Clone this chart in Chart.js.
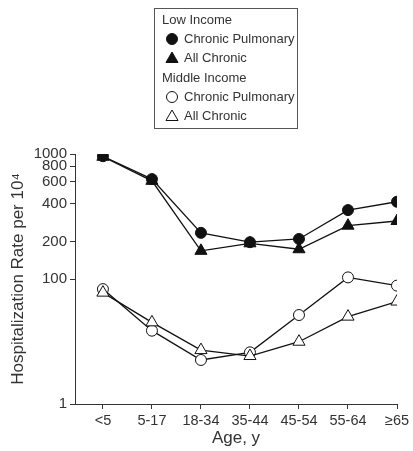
<!DOCTYPE html>
<html>
<head>
<meta charset="utf-8">
<script src="https://cdn.jsdelivr.net/npm/chart.js@4/dist/chart.umd.min.js"></script>
<style>
  html, body { margin: 0; padding: 0; background: #fff; }
</style>
</head>
<body>
<canvas id="hosp_chart" width="413" height="451"></canvas>
<script>
// age groups on the x axis
const categories = ['<5', '5-17', '18-34', '35-44', '45-54', '55-64', '\u226565']

// hospitalization rate per 10^4
const lowPulmonary = [960, 630, 234, 197, 209, 356, 415]
const lowAllChronic = [950, 610, 168, 193, 173, 267, 291]
const midPulmonary = [83, 38.6, 22.5, 25.9, 51.5, 103, 88.5]
const midAllChronic = [77.8, 45, 27, 24.2, 31.5, 50, 66]

// y ticks; the reference prints "1" at the bottom tick (one decade below 100)
const tickValues = [10, 100, 200, 400, 600, 800, 1000]
const tickLabels = ['1', '100', '200', '400', '600', '800', '1000']

const FONT = '"Liberation Sans", Arial, Helvetica, sans-serif'
const TEXT = '#333'
const INK = '#111'

function toPoints(values) {
    return values.map(function (v, i) { return {x: i, y: v} })
}

function drawMarker(ctx, style, filled, x, y, r) {
    ctx.beginPath()
    if (style === 'circle') {
        ctx.arc(x, y, r, 0, Math.PI * 2)
    } else {
        let rad = 0
        ctx.moveTo(x + Math.sin(rad) * r, y - Math.cos(rad) * r)
        rad += Math.PI * 2 / 3
        ctx.lineTo(x + Math.sin(rad) * r, y - Math.cos(rad) * r)
        rad += Math.PI * 2 / 3
        ctx.lineTo(x + Math.sin(rad) * r, y - Math.cos(rad) * r)
        ctx.closePath()
    }
    ctx.fillStyle = filled ? INK : '#fff'
    ctx.fill()
    ctx.lineWidth = 1
    ctx.strokeStyle = INK
    ctx.stroke()
}

// grouped legend box at the top
const legendBox = {
    id: 'legendBox',
    afterDraw: function (chart) {
        const ctx = chart.ctx
        ctx.save()
        ctx.strokeStyle = '#555'
        ctx.lineWidth = 1
        ctx.strokeRect(154.5, 8.5, 143, 120)
        ctx.font = '13px ' + FONT
        ctx.fillStyle = TEXT
        ctx.textBaseline = 'middle'
        ctx.textAlign = 'left'
        const rows = [
            {head: 'Low Income', y: 20},
            {text: 'Chronic Pulmonary', style: 'circle', filled: true, y: 39},
            {text: 'All Chronic', style: 'triangle', filled: true, y: 58},
            {head: 'Middle Income', y: 78},
            {text: 'Chronic Pulmonary', style: 'circle', filled: false, y: 97},
            {text: 'All Chronic', style: 'triangle', filled: false, y: 116}
        ]
        for (const row of rows) {
            if (row.head) {
                ctx.fillStyle = TEXT
                ctx.fillText(row.head, 162, row.y)
            } else {
                const r = row.style === 'circle' ? 5.5 : 7
                drawMarker(ctx, row.style, row.filled, 172, row.y + (row.style === 'circle' ? 0 : 1), r)
                ctx.fillStyle = TEXT
                ctx.fillText(row.text, 184, row.y)
            }
        }
        ctx.restore()
    }
}

function makeSet(label, values, style, filled, order) {
    return {
        label: label,
        data: toPoints(values),
        borderColor: INK,
        borderWidth: 1.3,
        pointStyle: style,
        pointRadius: style === 'circle' ? 5.5 : 7,
        pointBorderWidth: 1,
        pointBorderColor: INK,
        pointBackgroundColor: filled ? INK : '#fff',
        tension: 0,
        order: order
    }
}

const chart = new Chart(document.getElementById('hosp_chart').getContext('2d'), {
    type: 'line',
    data: {
        datasets: [
            makeSet('Low Income Chronic Pulmonary', lowPulmonary, 'circle', true, 1),
            makeSet('Low Income All Chronic', lowAllChronic, 'triangle', true, 0),
            makeSet('Middle Income Chronic Pulmonary', midPulmonary, 'circle', false, 1),
            makeSet('Middle Income All Chronic', midAllChronic, 'triangle', false, 0)
        ]
    },
    options: {
        responsive: false,
        animation: false,
        devicePixelRatio: 1,
        layout: {padding: {top: 154, right: 16, left: 0, bottom: 0}},
        plugins: {
            legend: {display: false},
            tooltip: {enabled: false}
        },
        scales: {
            x: {
                type: 'linear',
                min: -0.57,
                max: 6,
                afterBuildTicks: function (scale) {
                    scale.ticks = categories.map(function (c, i) { return {value: i} })
                },
                afterFit: function (scale) { scale.height = 47 },
                ticks: {
                    autoSkip: false,
                    maxRotation: 0,
                    padding: 3,
                    color: TEXT,
                    font: {family: FONT, size: 14.5},
                    callback: function (value) { return categories[value] }
                },
                grid: {drawOnChartArea: false, tickLength: 5, color: '#333'},
                border: {color: '#333', width: 1},
                title: {
                    display: true,
                    text: 'Age, y',
                    color: TEXT,
                    font: {family: FONT, size: 17},
                    padding: {top: 0, bottom: 2}
                }
            },
            y: {
                type: 'logarithmic',
                min: 10,
                max: 1000,
                afterBuildTicks: function (scale) {
                    scale.ticks = tickValues.map(function (v) { return {value: v} })
                },
                afterFit: function (scale) { scale.width = 75 },
                ticks: {
                    autoSkip: false,
                    padding: 3,
                    color: TEXT,
                    font: {family: FONT, size: 15},
                    callback: function (value) { return tickLabels[tickValues.indexOf(value)] }
                },
                grid: {drawOnChartArea: false, tickLength: 5, color: '#333'},
                border: {color: '#333', width: 1},
                title: {
                    display: true,
                    text: 'Hospitalization Rate per 10\u2074',
                    color: TEXT,
                    font: {family: FONT, size: 17},
                    padding: {top: 8, bottom: 4}
                }
            }
        }
    },
    plugins: [legendBox]
})
</script>
</body>
</html>
